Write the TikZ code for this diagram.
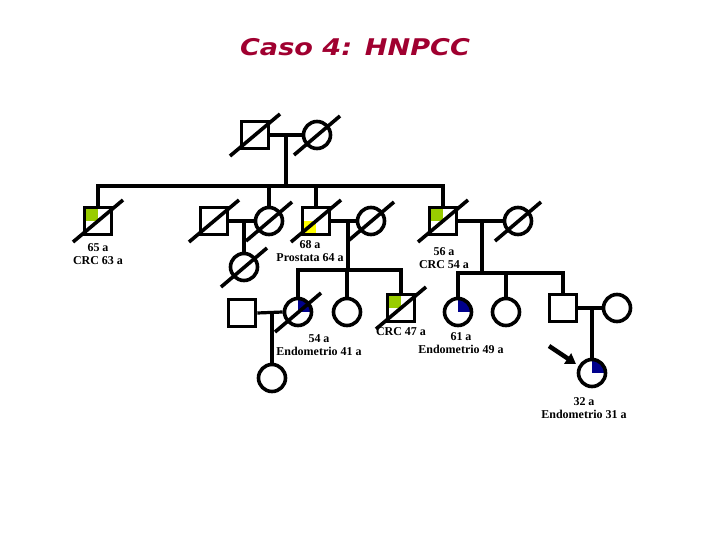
\documentclass[tikz,border=0pt]{standalone}
\usepackage{fontspec}
\setmainfont{Liberation Serif}
\newfontfamily\titlefont{DejaVu Sans}
\usetikzlibrary{calc,arrows.meta}
\definecolor{titlered}{RGB}{160,0,48}
\definecolor{affgreen}{RGB}{153,204,0}
\definecolor{affyellow}{RGB}{255,255,0}
\definecolor{affblue}{RGB}{0,0,140}
\tikzset{
  male/.style={draw, rectangle, minimum size=27pt, inner sep=0pt, line width=3.6pt},
  female/.style={draw, circle, minimum size=27pt, inner sep=0pt, line width=3.6pt},
  pedlink/.style={line width=3.2pt},
  deadline/.style={line width=3.6pt},
  lbl/.style={font=\fontsize{12}{13}\selectfont\bfseries, inner sep=0pt, align=center},
  qgreenTL/.style={path picture={\fill[affgreen] (path picture bounding box.north west) rectangle (path picture bounding box.center);}},
  qyellowBL/.style={path picture={\fill[affyellow] (path picture bounding box.south west) rectangle (path picture bounding box.center);}},
  qblueTR/.style={path picture={\fill[affblue] (path picture bounding box.north east) rectangle (path picture bounding box.center);}},
}
\newcommand{\deadsq}[1]{\draw[deadline] ($(#1)+(-25,21)$) -- ($(#1)+(25,-21)$);}
\newcommand{\deadci}[1]{\draw[deadline] ($(#1)+(-23,20)$) -- ($(#1)+(23,-19)$);}
\begin{document}
\begin{tikzpicture}[x=1pt,y=-1pt]
\useasboundingbox (0,0) rectangle (720,540);
% title
\node[text=titlered, font=\titlefont\fontsize{23}{26}\selectfont\bfseries\itshape] (title) at (355,47) {\scalebox{1.18}[1]{Caso 4: HNPCC}};

% generation I
\node[male] (g1) at (255,135) {};
\node[female] (g2) at (317,135) {};
\deadsq{g1} \deadci{g2}
\draw[pedlink] (g1.east) -- (g2.west);
\coordinate (m1) at (286,135);
\coordinate (sib1) at (286,186);
\draw[pedlink] (m1) -- (sib1);

% generation II
\node[male, qgreenTL] (a1) at (98,221) {};
\node[female] (a2) at (269,221) {};
\node[male, qyellowBL] (a3) at (316,221) {};
\node[male, qgreenTL] (a4) at (443,221) {};
\node[male] (s2) at (214,221) {};
\node[female] (s3) at (371,221) {};
\node[female] (s4) at (518,221) {};
\deadsq{a1} \deadci{a2} \deadsq{a3} \deadsq{a4}
\deadsq{s2} \deadci{s3} \deadci{s4}
\draw[pedlink] (a1.north) -- (a1.north |- sib1) -- (a4.north |- sib1) -- (a4.north);
\draw[pedlink] (a2.north) -- (a2.north |- sib1);
\draw[pedlink] (a3.north) -- (a3.north |- sib1);
\draw[pedlink] (s2.east) -- (a2.west);
\draw[pedlink] (a3.east) -- (s3.west);
\draw[pedlink] (a4.east) -- (s4.west);

\node[lbl] (la1) at (98,254) {65 a\\CRC 63 a};
\node[lbl] (la3) at (310,251) {68 a\\Prostata 64 a};
\node[lbl] (la4) at (444,258) {56 a\\CRC 54 a};

% children of a2
\node[female] (c1) at (244,267) {};
\deadci{c1}
\coordinate (m2) at (244,221);
\draw[pedlink] (m2) -- (c1.north);

% children of a3
\coordinate (m3) at (348,221);
\coordinate (sib3) at (348,270);
\draw[pedlink] (m3) -- (sib3);
\node[female, qblueTR] (d1) at (298,312) {};
\node[female] (d2) at (347,312) {};
\node[male, qgreenTL] (d3) at (401,308) {};
\deadci{d1} \deadsq{d3}
\draw[pedlink] (d1.north) -- (d1.north |- sib3) -- (d3.north |- sib3) -- (d3.north);
\draw[pedlink] (d2.north) -- (d2.north |- sib3);
\node[lbl] (ld1) at (319,345) {54 a\\Endometrio 41 a};
\node[lbl] (ld3) at (401,332) {CRC 47 a};

% d1 family
\node[male] (e1) at (242,313) {};
\draw[pedlink] (e1.east) -- (d1.west);
\coordinate (m4) at (272,313);
\node[female] (f1) at (272,378) {};
\draw[pedlink] (m4) -- (f1.north);

% children of a4
\coordinate (m5) at (482,221);
\coordinate (sib5) at (482,273);
\draw[pedlink] (m5) -- (sib5);
\node[female, qblueTR] (h1) at (458,312) {};
\node[female] (h2) at (506,312) {};
\node[male] (h3) at (563,308) {};
\draw[pedlink] (h1.north) -- (h1.north |- sib5) -- (h3.north |- sib5) -- (h3.north);
\draw[pedlink] (h2.north) -- (h2.north |- sib5);
\node[lbl] (lh1) at (461,343) {61 a\\Endometrio 49 a};

% h3 family
\node[female] (s5) at (617,308) {};
\draw[pedlink] (h3.east) -- (s5.west);
\coordinate (m6) at (592,308);
\node[female, qblueTR] (p) at (592,373) {};
\draw[pedlink] (m6) -- (p.north);
\node[lbl] (lp) at (584,408) {32 a\\Endometrio 31 a};

% proband arrow
\coordinate (ar1) at (549,346);
\coordinate (ar2) at (576,364);
\draw[line width=4.5pt, -{Triangle[length=10pt,width=12pt]}] (ar1) -- (ar2);
\end{tikzpicture}
\end{document}
